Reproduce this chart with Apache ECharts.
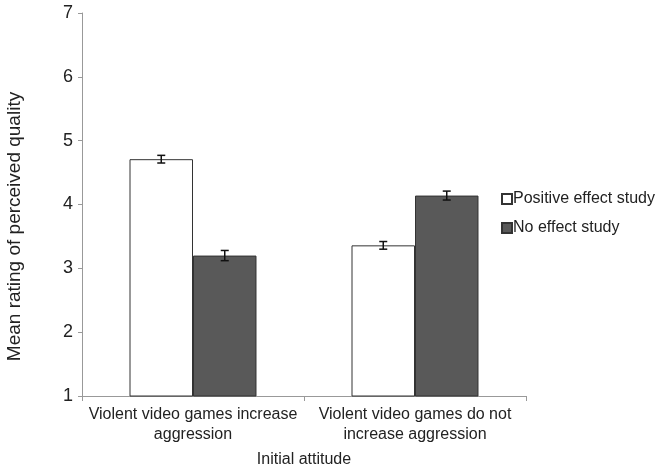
<!DOCTYPE html>
<html>
<head>
<meta charset="utf-8">
<script src="https://cdn.jsdelivr.net/npm/echarts@6/dist/echarts.min.js"></script>
<style>
  html, body { margin: 0; padding: 0; background: #fff; }
  #chart { width: 662px; height: 471px; }
</style>
</head>
<body>
<div id="chart"></div>
<script>
const categories = ['Violent video games increase\naggression', 'Violent video games do not\nincrease aggression'];
const seriesNames = ['Positive effect study', 'No effect study'];
const positiveMeans = [4.71, 3.36];
const positiveErrors = [0.06, 0.06];
const noEffectMeans = [3.20, 4.14];
const noEffectErrors = [0.08, 0.07];
const yTicks = [1, 2, 3, 4, 5, 6, 7];

const FONT = 'Liberation Sans, Arial, sans-serif';
const BAR_FRAC = 0.286;

function errorSeries(means, errors, side) {
  return {
    type: 'custom',
    z: 5,
    silent: true,
    data: means.map((m, i) => [i, m - errors[i], m + errors[i]]),
    renderItem(params, api) {
      const band = api.size([1, 0])[0];
      const bw = band * BAR_FRAC;
      const lo = api.coord([api.value(0), api.value(1)]);
      const hi = api.coord([api.value(0), api.value(2)]);
      const x = lo[0] + side * bw / 2;
      const cap = 4;
      const style = { stroke: '#111', lineWidth: 1.5 };
      return {
        type: 'group',
        children: [
          { type: 'line', shape: { x1: x, y1: lo[1], x2: x, y2: hi[1] }, style },
          { type: 'line', shape: { x1: x - cap, y1: lo[1], x2: x + cap, y2: lo[1] }, style },
          { type: 'line', shape: { x1: x - cap, y1: hi[1], x2: x + cap, y2: hi[1] }, style }
        ]
      };
    }
  };
}

const chart = echarts.init(document.getElementById('chart'));
chart.setOption({
  animation: false,
  textStyle: { fontFamily: FONT },
  grid: { left: 82, right: 136, top: 13, bottom: 75, outerBoundsMode: 'none', containLabel: false },
  legend: {
    orient: 'vertical',
    left: 496,
    top: 186,
    itemWidth: 10,
    itemHeight: 10,
    itemGap: 13,
    icon: 'rect',
    textStyle: { fontSize: 16, color: '#222', fontFamily: FONT, padding: [0, 0, 0, -4] },
    data: seriesNames
  },
  xAxis: {
    type: 'category',
    data: categories,
    name: 'Initial attitude',
    nameLocation: 'middle',
    nameGap: 56,
    nameTextStyle: { fontSize: 16, color: '#222' },
    axisLine: { lineStyle: { color: '#999', width: 1 } },
    axisTick: { show: true, length: 5, lineStyle: { color: '#999' } },
    axisLabel: { interval: 0, fontSize: 16, color: '#222', lineHeight: 20, margin: 9 }
  },
  yAxis: {
    type: 'value',
    min: yTicks[0],
    max: yTicks[yTicks.length - 1],
    interval: 1,
    name: 'Mean rating of perceived quality',
    nameLocation: 'middle',
    nameGap: 58,
    nameTextStyle: { fontSize: 19, color: '#222', padding: [0, 44, 0, 0] },
    axisLine: { show: true, lineStyle: { color: '#999', width: 1 } },
    axisTick: { show: true, length: 4, lineStyle: { color: '#999' } },
    splitLine: { show: false },
    axisLabel: { fontSize: 18, color: '#222', margin: 9 }
  },
  series: [
    {
      name: seriesNames[0],
      type: 'bar',
      data: positiveMeans,
      barWidth: (BAR_FRAC * 100) + '%',
      barGap: '0%',
      itemStyle: { color: '#ffffff', borderColor: '#333', borderWidth: 1 }
    },
    {
      name: seriesNames[1],
      type: 'bar',
      data: noEffectMeans,
      barWidth: (BAR_FRAC * 100) + '%',
      barGap: '0%',
      itemStyle: { color: '#595959', borderColor: '#333', borderWidth: 1 }
    },
    errorSeries(positiveMeans, positiveErrors, -1),
    errorSeries(noEffectMeans, noEffectErrors, 1)
  ]
});
</script>
</body>
</html>
